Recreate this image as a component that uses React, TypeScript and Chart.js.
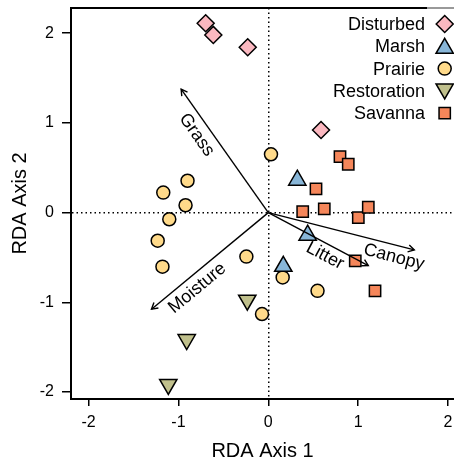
import React, { useEffect, useRef } from 'react';
import { Chart, registerables } from 'chart.js';
import { drawPoint } from 'chart.js/helpers';

Chart.register(...registerables);

// ---- data ----
const groupNames = ['Disturbed', 'Marsh', 'Prairie', 'Restoration', 'Savanna'];

const disturbedX = [-0.697, -0.612, -0.229, 0.587];
const disturbedY = [2.110, 1.980, 1.843, 0.921];

const marshX = [0.323, 0.438, 0.167];
const marshY = [0.361, -0.252, -0.598];

const prairieX = [0.030, -0.899, -1.169, -0.921, -1.102, -1.231, -1.178, -0.244, 0.160, 0.548, -0.070];
const prairieY = [0.650, 0.355, 0.223, 0.082, -0.074, -0.313, -0.602, -0.490, -0.722, -0.872, -1.130];

const restorationX = [-0.234, -0.908, -1.113];
const restorationY = [-0.976, -1.414, -1.915];

const savannaX = [0.798, 0.890, 0.531, 0.383, 0.623, 1.002, 1.113, 0.968, 1.188];
const savannaY = [0.624, 0.539, 0.264, 0.011, 0.041, -0.056, 0.060, -0.538, -0.872];

const arrowNames = ['Grass', 'Moisture', 'Litter', 'Canopy'];
const arrowX = [-0.970, -1.300, 1.113, 1.625];
const arrowY = [1.375, -1.076, -0.590, -0.416];
const arrowLabelX = [-0.797, -0.790, 0.631, 1.399];
const arrowLabelY = [0.866, -0.842, -0.482, -0.497];

const xTicks = [-2, -1, 0, 1, 2];
const yTicks = [-2, -1, 0, 1, 2];

// ---- styles ----
const FONT = "'Liberation Sans', Arial, Helvetica, sans-serif";
const groupStyles = [
  { color: '#FBB8C0', pointStyle: 'rectRot', radius: 8.5, rotation: 0 },
  { color: '#88B6D8', pointStyle: 'triangle', radius: 10, rotation: 0 },
  { color: '#FFDA8A', pointStyle: 'circle', radius: 6.5, rotation: 0 },
  { color: '#C0C08C', pointStyle: 'triangle', radius: 10, rotation: 180 },
  { color: '#F5865A', pointStyle: 'rect', radius: 8, rotation: 0 },
];
const groupXs = [disturbedX, marshX, prairieX, restorationX, savannaX];
const groupYs = [disturbedY, marshY, prairieY, restorationY, savannaY];

const overlayPlugin = {
  id: 'overlay',
  afterDatasetsDraw(chart: any) {
    const ctx = chart.ctx as CanvasRenderingContext2D;
    const area = chart.chartArea;
    const xs = chart.scales.x;
    const ys = chart.scales.y;
    ctx.save();
    // top border of the box
    ctx.strokeStyle = '#000';
    ctx.lineWidth = 2;
    ctx.beginPath();
    ctx.moveTo(area.left - 1, area.top);
    ctx.lineTo(427, area.top);
    ctx.stroke();
    ctx.strokeStyle = '#555';
    ctx.lineWidth = 1.2;
    ctx.beginPath();
    ctx.moveTo(427, area.top);
    ctx.lineTo(area.right, area.top);
    ctx.stroke();

    // arrow heads and labels
    arrowNames.forEach((name, i) => {
      const meta = chart.getDatasetMeta(i);
      const p0 = meta.data[0];
      const p1 = meta.data[1];
      const ang = Math.atan2(p1.y - p0.y, p1.x - p0.x);
      const L = 7;
      const spread = Math.PI / 6;
      ctx.strokeStyle = '#000';
      ctx.lineWidth = 1.4;
      ctx.beginPath();
      ctx.moveTo(p1.x - L * Math.cos(ang - spread), p1.y - L * Math.sin(ang - spread));
      ctx.lineTo(p1.x, p1.y);
      ctx.lineTo(p1.x - L * Math.cos(ang + spread), p1.y - L * Math.sin(ang + spread));
      ctx.stroke();

      let t = ang;
      if (t > Math.PI / 2) t -= Math.PI;
      if (t < -Math.PI / 2) t += Math.PI;
      const lx = xs.getPixelForValue(arrowLabelX[i]);
      const ly = ys.getPixelForValue(arrowLabelY[i]);
      ctx.save();
      ctx.translate(lx, ly);
      ctx.rotate(t);
      ctx.fillStyle = '#000';
      ctx.font = `18px ${FONT}`;
      ctx.textAlign = 'center';
      ctx.textBaseline = 'middle';
      ctx.fillText(name, 0, 0);
      ctx.restore();
    });

    // legend (text right aligned, symbol on the right)
    const rowY0 = 24;
    const rowStep = 22.3;
    groupNames.forEach((name, i) => {
      const st = groupStyles[i];
      const y = rowY0 + i * rowStep;
      ctx.fillStyle = '#000';
      ctx.font = `18px ${FONT}`;
      ctx.textAlign = 'right';
      ctx.textBaseline = 'middle';
      ctx.fillText(name, 425, y + 1);
      ctx.fillStyle = st.color;
      ctx.strokeStyle = '#000';
      ctx.lineWidth = 1.5;
      const cy = st.pointStyle === 'triangle' ? y + (st.rotation ? -2 : 2) : y;
      drawPoint(ctx, { pointStyle: st.pointStyle as any, radius: st.radius, rotation: st.rotation, borderWidth: 1.5 }, 444.7, cy);
    });
    ctx.restore();
  },
};

export default function App() {
  const canvasRef = useRef<HTMLCanvasElement | null>(null);

  useEffect(() => {
    document.body.style.margin = '0';
    const canvas = canvasRef.current;
    if (!canvas) return;

    const arrowDatasets = arrowNames.map((name, i) => ({
      label: name,
      data: [
        { x: 0, y: 0 },
        { x: arrowX[i], y: arrowY[i] },
      ],
      showLine: true,
      borderColor: '#000',
      borderWidth: 1.4,
      pointRadius: 0,
      fill: false,
      order: 0,
    }));

    const pointDatasets = groupNames.map((name, g) => ({
      label: name,
      data: groupXs[g].map((x, k) => ({ x, y: groupYs[g][k] })),
      showLine: false,
      backgroundColor: groupStyles[g].color,
      borderColor: '#000',
      borderWidth: 1.5,
      pointStyle: groupStyles[g].pointStyle,
      pointRadius: groupStyles[g].radius,
      pointRotation: groupStyles[g].rotation,
      order: 1,
    }));

    const zeroGrid = (c: any) => (c.tick && c.tick.value === 0 ? '#000' : 'rgba(0,0,0,0)');

    const chart = new Chart(canvas, {
      type: 'scatter',
      data: { datasets: [...arrowDatasets, ...pointDatasets] as any },
      plugins: [overlayPlugin],
      options: {
        animation: false,
        responsive: true,
        maintainAspectRatio: false,
        events: [],
        layout: { autoPadding: false, padding: { top: 8, right: 0, left: 0, bottom: 0 } },
        plugins: {
          legend: { display: false },
          tooltip: { enabled: false },
        },
        scales: {
          x: {
            type: 'linear',
            min: -2.196,
            max: 2.067,
            afterBuildTicks: (scale: any) => {
              scale.ticks = xTicks.map((v) => ({ value: v }));
            },
            afterFit: (scale: any) => {
              scale.height = 62;
              scale.paddingLeft = 0;
              scale.paddingRight = 0;
            },
            grid: {
              color: zeroGrid,
              lineWidth: 1.5,
              tickColor: '#000',
              tickWidth: 1.5,
              tickLength: 7,
              drawOnChartArea: true,
            },
            border: { display: true, color: '#000', width: 2, dash: [1.5, 3] },
            ticks: {
              autoSkip: false,
              maxRotation: 0,
              padding: 7,
              color: '#000',
              font: { family: FONT, size: 16 },
            },
            title: {
              display: true,
              text: 'RDA Axis 1',
              color: '#000',
              font: { family: FONT, size: 20, lineHeight: 1 },
              padding: { top: 0, bottom: 0 },
            },
          },
          y: {
            type: 'linear',
            min: -2.077,
            max: 2.28,
            afterBuildTicks: (scale: any) => {
              scale.ticks = yTicks.map((v) => ({ value: v }));
            },
            afterFit: (scale: any) => {
              scale.width = 71;
              scale.paddingTop = 0;
              scale.paddingBottom = 0;
            },
            grid: {
              color: zeroGrid,
              lineWidth: 1.5,
              tickColor: '#000',
              tickWidth: 1.5,
              tickLength: 9,
              drawOnChartArea: true,
            },
            border: { display: true, color: '#000', width: 2, dash: [1.5, 3] },
            ticks: {
              autoSkip: false,
              padding: 8,
              color: '#000',
              font: { family: FONT, size: 16 },
            },
            title: {
              display: true,
              text: 'RDA Axis 2',
              color: '#000',
              font: { family: FONT, size: 20, lineHeight: 1 },
              padding: { top: 10, bottom: 0 },
            },
          },
        },
      } as any,
    });

    return () => {
      chart.destroy();
    };
  }, []);

  return (
    <div style={{ position: 'relative', width: '454px', height: '461px' }}>
      <canvas ref={canvasRef} />
    </div>
  );
}
